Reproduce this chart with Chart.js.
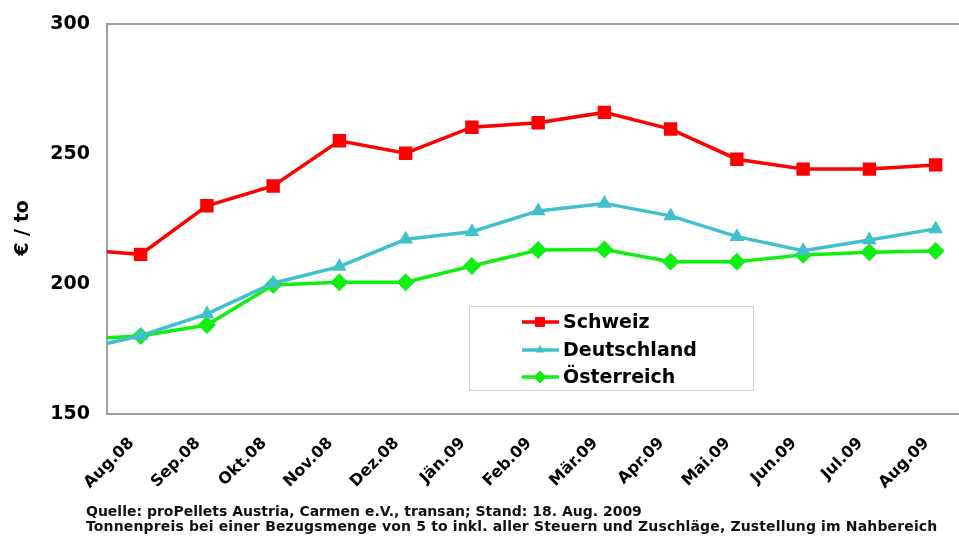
<!DOCTYPE html>
<html>
<head>
<meta charset="utf-8">
<script src="https://cdn.jsdelivr.net/npm/chart.js@4.4.1/dist/chart.umd.min.js"></script>
<style>
  html, body { margin: 0; padding: 0; background: #fff; overflow: hidden; }
  #wrap { position: relative; width: 959px; height: 536px; overflow: hidden; }
  .note { position: absolute; left: 86px; font: bold 14px "DejaVu Sans", Verdana, sans-serif; color: #111; white-space: nowrap; }
</style>
</head>
<body>
<div id="wrap">
  <canvas id="myChart" width="968" height="536"></canvas>
  <div class="note" style="top:503px">Quelle: proPellets Austria, Carmen e.V., transan; Stand: 18. Aug. 2009</div>
  <div class="note" style="top:518px; letter-spacing:0.15px">Tonnenpreis bei einer Bezugsmenge von 5 to inkl. aller Steuern und Zuschläge, Zustellung im Nahbereich</div>
</div>
<script>
// months (index -1 = Jul.08, only its line segment is visible at the left edge)
const months = ['Jul.08', 'Aug.08', 'Sep.08', 'Okt.08', 'Nov.08', 'Dez.08', 'Jän.09', 'Feb.09',
                'Mär.09', 'Apr.09', 'Mai.09', 'Jun.09', 'Jul.09', 'Aug.09'];
const schweiz     = [213.4, 211.4, 230.1, 237.7, 255.1, 250.3, 260.3, 262.0, 266.0, 259.6, 248.0, 244.2, 244.2, 245.8];
const deutschland = [174.3, 180.1, 188.5, 200.3, 206.7, 217.2, 220.1, 228.1, 231.0, 226.2, 218.2, 212.8, 216.9, 221.2];
const oesterreich = [178.6, 180.0, 184.2, 199.6, 200.7, 200.7, 206.9, 213.1, 213.3, 208.6, 208.6, 211.2, 212.2, 212.7];
const yTicks = [150, 200, 250, 300];
const yTitle = '€ / to';

const FONT = '"DejaVu Sans", Verdana, sans-serif';

function toPoints(values) {
    return values.map((v, i) => ({ x: i - 1, y: v }));
}

const legendBox = {
    id: 'legendBox',
    afterDraw(chart) {
        const ctx = chart.ctx;
        ctx.save();
        ctx.strokeStyle = '#d0d0d0';
        ctx.lineWidth = 1;
        ctx.strokeRect(469.5, 306.5, 284, 84);
        ctx.font = 'bold 19px ' + FONT;
        ctx.textBaseline = 'middle';
        const rows = [322, 350, 377];
        chart.data.datasets.forEach((ds, i) => {
            const y = rows[i];
            ctx.strokeStyle = ds.borderColor;
            ctx.lineWidth = ds.borderWidth;
            ctx.beginPath();
            ctx.moveTo(522, y);
            ctx.lineTo(559, y);
            ctx.stroke();
            ctx.fillStyle = ds.pointBackgroundColor;
            Chart.helpers.drawPoint(ctx, { pointStyle: ds.pointStyle, radius: ds.pointRadius, rotation: 0, borderWidth: 0 }, 540, y);
            ctx.fillStyle = '#000';
            ctx.fillText(ds.label, 563, y + 1);
        });
        // y axis title
        ctx.translate(23, 228);
        ctx.rotate(-Math.PI / 2);
        ctx.textAlign = 'center';
        ctx.fillText(yTitle, 0, 0);
        ctx.restore();
    }
};

const frame = {
    id: 'frame',
    beforeDatasetsDraw(chart) {
        const a = chart.chartArea;
        const ctx = chart.ctx;
        ctx.save();
        ctx.strokeStyle = '#a0a0a0';
        ctx.lineWidth = 2;
        ctx.beginPath();
        ctx.moveTo(a.right + 2, a.top);
        ctx.lineTo(a.left, a.top);
        ctx.lineTo(a.left, a.bottom);
        ctx.lineTo(a.right + 2, a.bottom);
        ctx.stroke();
        ctx.restore();
    }
};

const ctx = document.getElementById('myChart').getContext('2d');
new Chart(ctx, {
    type: 'line',
    data: {
        datasets: [{
            label: 'Schweiz',
            data: toPoints(schweiz),
            borderColor: '#ff0000',
            pointBackgroundColor: '#ff0000',
            pointBorderColor: '#ff0000',
            borderWidth: 3.5,
            pointStyle: 'rect',
            pointRadius: 7
        }, {
            label: 'Deutschland',
            data: toPoints(deutschland),
            borderColor: '#40c0cc',
            pointBackgroundColor: '#40c0cc',
            pointBorderColor: '#40c0cc',
            borderWidth: 3.5,
            pointStyle: 'triangle',
            pointRadius: 5
        }, {
            label: 'Österreich',
            data: toPoints(oesterreich),
            borderColor: '#11ee11',
            pointBackgroundColor: '#11ee11',
            pointBorderColor: '#11ee11',
            borderWidth: 3.5,
            pointStyle: 'rectRot',
            pointRadius: 6.5
        }]
    },
    options: {
        responsive: false,
        animation: false,
        clip: 0,
        layout: { padding: { top: 24, right: 0, bottom: 0, left: 0 } },
        plugins: {
            legend: { display: false },
            tooltip: { enabled: false }
        },
        elements: { line: { tension: 0 }, point: { borderWidth: 0 } },
        scales: {
            x: {
                type: 'linear',
                min: -0.508,
                max: 12.33,
                grid: { display: false, drawTicks: false },
                border: { display: false },
                afterBuildTicks: (scale) => {
                    scale.ticks = months.slice(1).map((m, i) => ({ value: i }));
                },
                afterFit: (scale) => {
                    scale.height = 122;
                    scale.paddingLeft = 0;
                    scale.paddingRight = 0;
                },
                ticks: {
                    autoSkip: false,
                    maxRotation: 45,
                    minRotation: 45,
                    padding: 20,
                    labelOffset: -9,
                    color: '#000',
                    font: { family: FONT, size: 16, weight: 'bold' },
                    callback: (value) => months[value + 1]
                }
            },
            y: {
                min: 150,
                max: 300,
                grid: { display: false, drawTicks: false },
                border: { display: false },
                afterBuildTicks: (scale) => {
                    scale.ticks = yTicks.map(v => ({ value: v }));
                },
                afterFit: (scale) => {
                    scale.width = 107;
                    scale.paddingTop = 0;
                    scale.paddingBottom = 0;
                },
                ticks: {
                    padding: 17,
                    color: '#000',
                    font: { family: FONT, size: 19, weight: 'bold' }
                }
            }
        }
    },
    plugins: [frame, legendBox]
});
</script>
</body>
</html>
